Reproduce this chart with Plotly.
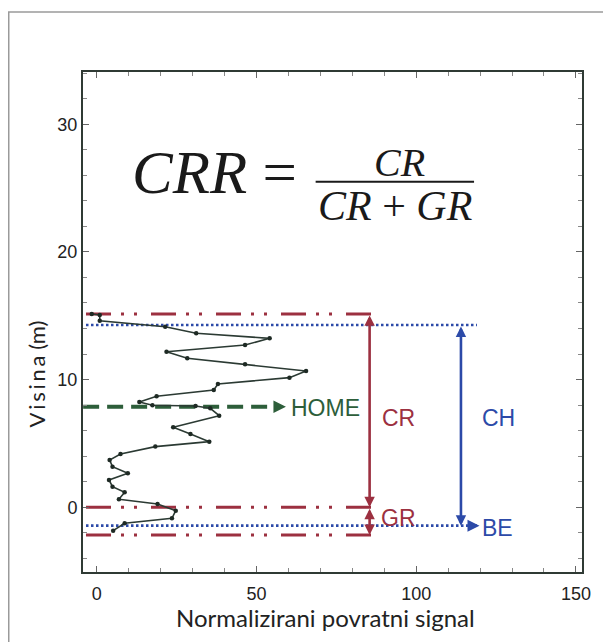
import plotly.graph_objects as go

# ---- data ----
signal = [-1.6, 0.9, 0.9, 21.4, 31.1, 54.1, 46.4, 21.8, 28.3, 46.4, 65.5, 60.3, 37.9, 36.6,
          18.7, 13.3, 17.4, 30.9, 35.5, 38.3, 23.9, 29.3, 35.2, 18.3, 7.4, 4.0, 4.9, 9.7,
          3.8, 4.9, 8.7, 6.9, 19.0, 24.7, 23.5, 8.7, 5.1]
height = [15.14, 15.06, 14.61, 14.14, 13.63, 13.23, 12.71, 12.18, 11.67, 11.2, 10.67, 10.15,
          9.66, 9.19, 8.69, 8.25, 7.99, 7.93, 7.75, 7.17, 6.26, 5.74, 5.14, 4.75, 4.17, 3.7,
          3.18, 2.66, 2.14, 1.61, 1.17, 0.63, 0.26, -0.27, -0.86, -1.25, -1.83]

canopy_top = 15.14      # red dash-dot (top)
canopy_height = 14.27   # blue dotted (CH top)
home_level = 7.88       # green dashed
ground_top = 0.0        # red dash-dot (ground)
bare_earth = -1.44      # blue dotted (BE)
ground_bottom = -2.17   # red dash-dot (bottom)

red_x = [-3.4, 86.7]
blue_x = [-3.4, 119.0]
green_x = [-4.3, 57.0]
cr_arrow_x = 85.4
ch_arrow_x = 114.0

x_ticks = [0, 50, 100, 150]
y_ticks = [0, 10, 20, 30]

RED = "#9c3040"
BLUE = "#2c4aa8"
GREEN = "#2d5e3a"
X0, X1 = -4.34, 151.9
Y0, Y1 = -5.07, 34.09

fig = go.Figure()

reddash = "25px,10px,3px,10px,3px,14px"
for lvl in [canopy_top, ground_top, ground_bottom]:
    fig.add_trace(go.Scatter(x=red_x, y=[lvl, lvl], mode="lines",
                             line=dict(color=RED, width=3, dash=reddash), hoverinfo="skip"))
for lvl in [canopy_height, bare_earth]:
    fig.add_trace(go.Scatter(x=blue_x, y=[lvl, lvl], mode="lines",
                             line=dict(color=BLUE, width=2.6, dash="2.5px,2.5px"), hoverinfo="skip"))
fig.add_trace(go.Scatter(x=green_x, y=[home_level, home_level], mode="lines",
                         line=dict(color=GREEN, width=4, dash="16px,8px"), hoverinfo="skip"))

# profile
fig.add_trace(go.Scatter(x=signal, y=height, mode="lines+markers",
                         line=dict(color="#2b3a33", width=1.6),
                         marker=dict(color="#1e2a24", size=4.5), hoverinfo="skip"))

# arrows
def darrow(x, y0, y1, color):
    fig.add_annotation(x=x, y=y1, ax=x, ay=y0, xref="x", yref="y", axref="x", ayref="y",
                       text="", showarrow=True, arrowside="end+start", arrowhead=2,
                       arrowsize=0.8, arrowwidth=2.6, arrowcolor=color)

darrow(cr_arrow_x, canopy_top, ground_top, RED)
darrow(cr_arrow_x, ground_top, ground_bottom, RED)
darrow(ch_arrow_x, canopy_height, bare_earth, BLUE)

fig.add_annotation(x=59.2, y=home_level, ax=56.0, ay=home_level, xref="x", yref="y",
                   axref="x", ayref="y", text="", showarrow=True, arrowhead=2,
                   arrowsize=1.0, arrowwidth=2.5, arrowcolor=GREEN)
fig.add_annotation(x=119.8, y=bare_earth, ax=117.0, ay=bare_earth, xref="x", yref="y",
                   axref="x", ayref="y", text="", showarrow=True, arrowhead=2,
                   arrowsize=1.0, arrowwidth=2.4, arrowcolor=BLUE)

lab_font = "Liberation Sans, Arial, sans-serif"
def label(x, y, text, color, size=23, xanchor="center"):
    fig.add_annotation(x=x, y=y, xref="x", yref="y", text=text, showarrow=False,
                       xanchor=xanchor, yanchor="middle",
                       font=dict(family=lab_font, size=size, color=color))

label(60.2, 7.75, "HOME", GREEN, 23, "left")
label(94.4, 6.97, "CR", RED)
label(125.9, 6.97, "CH", BLUE)
label(94.4, -0.86, "GR", RED)
label(125.4, -1.64, "BE", BLUE)

# formula
serif = "Liberation Serif, Times New Roman, serif"
fig.add_annotation(x=36.9, y=26.2, xref="x", yref="y", text="<i>CRR</i> =", showarrow=False,
                   xanchor="center", yanchor="middle", font=dict(family=serif, size=61, color="#1a1a1a"))
fig.add_annotation(x=94.8, y=27.0, xref="x", yref="y", text="<i>CR</i>", showarrow=False,
                   xanchor="center", yanchor="middle", font=dict(family=serif, size=40, color="#1a1a1a"))
fig.add_annotation(x=93.3, y=23.6, xref="x", yref="y", text="<i>CR</i> + <i>GR</i>", showarrow=False,
                   xanchor="center", yanchor="middle", font=dict(family=serif, size=42, color="#1a1a1a"))
fig.add_shape(type="line", xref="x", yref="y", x0=68.5, x1=118.1, y0=25.5, y1=25.5,
              line=dict(color="#1a1a1a", width=2))

# axis titles
title_font = "Lato, Noto Sans, sans-serif"
fig.add_annotation(x=-0.0933, y=0.396, xref="paper", yref="paper",
                   text="V\u2009i\u2009s\u2009i\u2009n\u2009a (m)",
                   textangle=-90, showarrow=False, xanchor="center", yanchor="middle",
                   font=dict(family=title_font, size=22, color="#222"))
fig.add_annotation(x=0.485, y=-0.09, xref="paper", yref="paper",
                   text="Normalizirani povratni signal", showarrow=False,
                   xanchor="center", yanchor="middle",
                   font=dict(family=title_font, size=24, color="#222"))

# outer frame
fig.add_shape(type="rect", xref="paper", yref="paper", x0=-0.1488, x1=1.2, y0=-0.3, y1=1.12,
              line=dict(color="#9a9a9a", width=1.5), layer="below")

axis_common = dict(showgrid=False, zeroline=False, showline=True, linecolor="#2f3a34",
                   linewidth=2, mirror="ticks", ticks="inside", ticklen=6, tickwidth=1,
                   tickcolor="#666",
                   tickfont=dict(family=lab_font, size=18, color="#222"))
fig.update_xaxes(range=[X0, X1], tickvals=x_ticks, ticktext=[str(v) for v in x_ticks],
                 minor=dict(dtick=10, ticks="inside", ticklen=4, tickcolor="#888", tick0=0),
                 ticklabelstandoff=4, **axis_common)
fig.update_yaxes(range=[Y0, Y1], tickvals=y_ticks, ticktext=[str(v) for v in y_ticks],
                 minor=dict(dtick=2, ticks="inside", ticklen=4, tickcolor="#888", tick0=0),
                 ticklabelstandoff=0, **axis_common)

fig.update_layout(width=603, height=642, showlegend=False,
                  margin=dict(l=83, r=16, t=72, b=70),
                  paper_bgcolor="white", plot_bgcolor="white")

fig.write_html("out.html", config={"displayModeBar": False},
               post_script="document.body.style.margin='0px';document.body.style.overflow='hidden';")
